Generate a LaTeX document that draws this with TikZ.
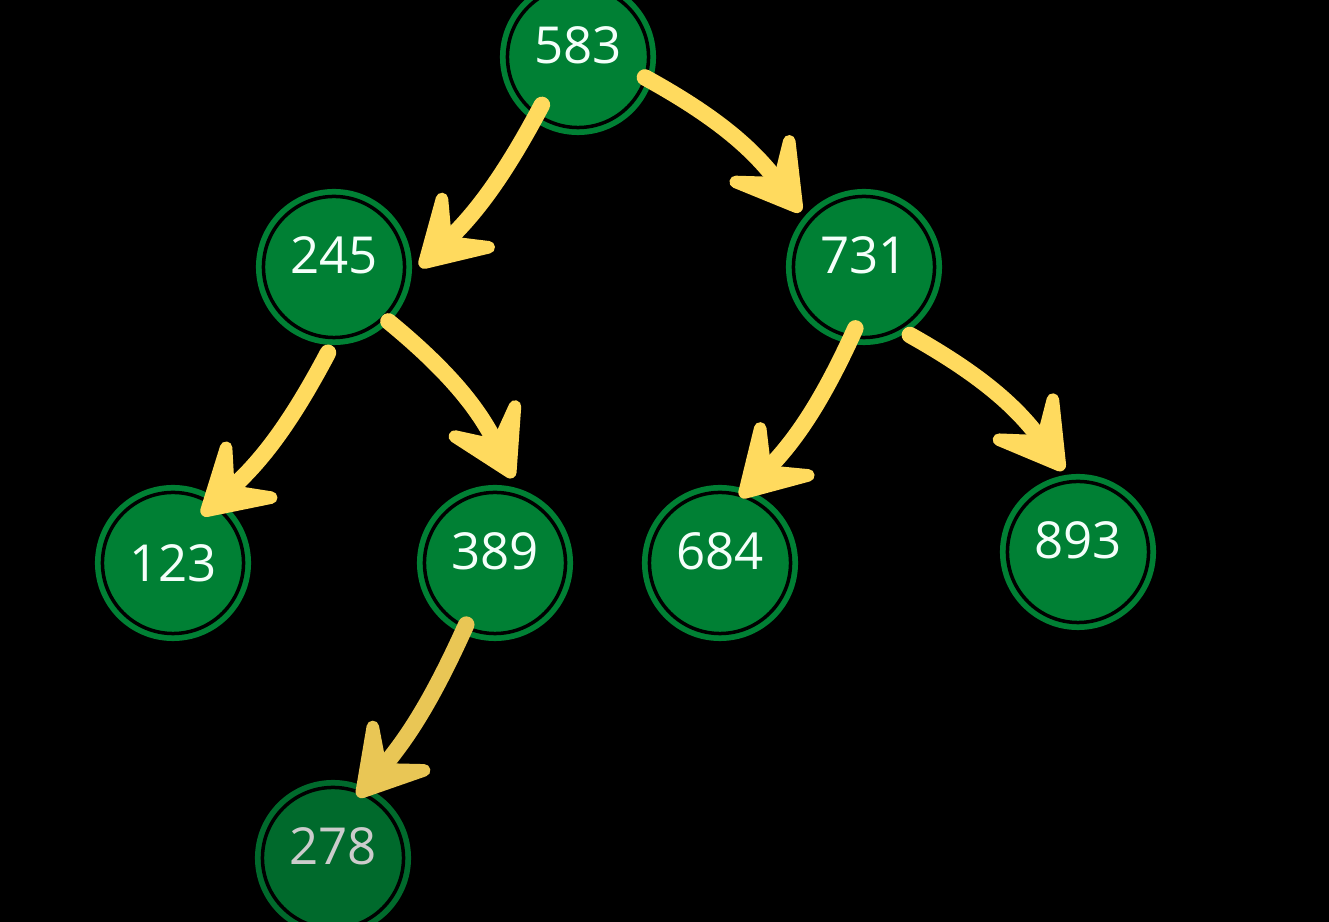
\documentclass[tikz,border=0pt]{standalone}
\usepackage{fontspec}
\setmainfont{Open Sans}
\usetikzlibrary{arrows.meta}
\definecolor{ngreen}{HTML}{008034}
\definecolor{ngreendark}{HTML}{006A2C}
\definecolor{ayellow}{HTML}{FFDA5E}
\definecolor{ayellowdim}{HTML}{E9C655}
\definecolor{ntext}{HTML}{F4FFFA}
\begin{document}
\begin{tikzpicture}[x=0.01cm,y=0.01cm,
  bnode/.style={circle, minimum size=1.56cm, inner sep=0pt, fill=ngreen,
    path picture={\draw[black, line width=0.035cm] (path picture bounding box.center) circle (0.705cm);}},
  darknode/.style={bnode, fill=ngreendark},
  numlab/.style={text=ntext, font=\fontsize{14.5}{17}\selectfont, inner sep=0pt, yshift=0.12cm},
  arr/.style={draw=ayellow, line width=0.165cm, line cap=round,
    -{Stealth[length=0.95cm, width=1.12cm, inset=0.45cm, round]}},
]
\fill[black] (0,0) rectangle (1329,-922);
\useasboundingbox (0,0) rectangle (1329,-922);

\node[bnode, label={[numlab]center:583}] (n583) at (578,-57) {};
\node[bnode, label={[numlab]center:245}] (n245) at (334,-267) {};
\node[bnode, label={[numlab]center:731}] (n731) at (864,-267) {};
\node[bnode, label={[numlab, yshift=-0.12cm]center:123}] (n123) at (173,-563) {};
\node[bnode, label={[numlab]center:389}] (n389) at (495,-563) {};
\node[bnode, label={[numlab]center:684}] (n684) at (720,-563) {};
\node[bnode, label={[numlab]center:893}] (n893) at (1078,-552) {};
\node[darknode, label={[numlab, text=gray!40]center:278}] (n278) at (333,-858) {};

\draw[arr] ([shift={(233:60)}]n583.center) to[bend left=9] ([shift={(0:86)}]n245.center);
\draw[arr] ([shift={(-17:70)}]n583.center) to[bend left=12] ([shift={(139:84)}]n731.center);
\draw[arr] ([shift={(266:86)}]n245.center) to[bend left=10] ([shift={(59:56)}]n123.center);
\draw[arr] ([shift={(-45:77)}]n245.center) to[bend left=12] ([shift={(78:87)}]n389.center);
\draw[arr] ([shift={(262:62)}]n731.center) to[bend left=10] ([shift={(73:69)}]n684.center);
\draw[arr] ([shift={(-56:82)}]n731.center) to[bend left=12] ([shift={(100:83)}]n893.center);
\draw[arr, draw=ayellowdim] ([shift={(245:68)}]n389.center) to[bend left=8] ([shift={(68:66)}]n278.center);
\end{tikzpicture}
\end{document}
